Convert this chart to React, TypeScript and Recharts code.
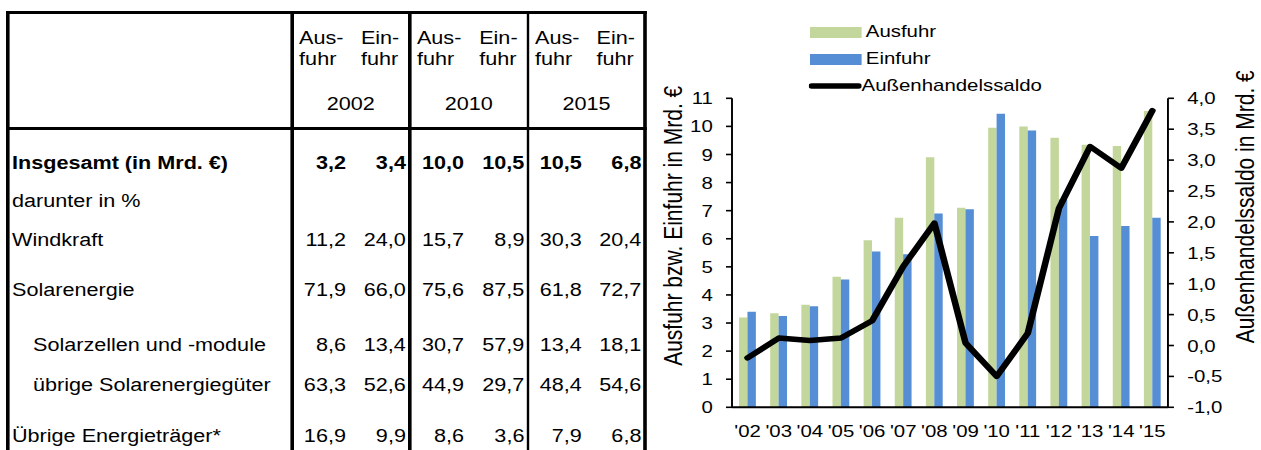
import React from "react";
import {
  Bar,
  ComposedChart,
  Legend,
  Line,
  XAxis,
  YAxis,
} from "recharts";

// chart data (Mrd. €)
const years = ["'02", "'03", "'04", "'05", "'06", "'07", "'08", "'09", "'10", "'11", "'12", "'13", "'14", "'15"];
const ausfuhr = [3.2, 3.35, 3.65, 4.65, 5.95, 6.75, 8.9, 7.1, 9.95, 10.0, 9.6, 9.35, 9.3, 10.55];
const einfuhr = [3.4, 3.25, 3.6, 4.55, 5.55, 5.45, 6.9, 7.05, 10.45, 9.85, 7.4, 6.1, 6.45, 6.75];
const saldo = [-0.2, 0.12, 0.08, 0.12, 0.4, 1.28, 1.98, 0.04, -0.5, 0.2, 2.22, 3.22, 2.87, 3.8];

const leftTicks = [0, 1, 2, 3, 4, 5, 6, 7, 8, 9, 10, 11];
const rightTicks = [-1, -0.5, 0, 0.5, 1, 1.5, 2, 2.5, 3, 3.5, 4];
const legendOrder = ["Ausfuhr", "Einfuhr", "Außenhandelssaldo"];

// table data
const tableYears = ["2002", "2010", "2015"];
const rowLabels = [
  "Insgesamt (in Mrd. €)",
  "darunter in %",
  "Windkraft",
  "Solarenergie",
  "Solarzellen und -module",
  "übrige Solarenergiegüter",
  "Übrige Energieträger*",
];
const rowValues = [
  ["3,2", "3,4", "10,0", "10,5", "10,5", "6,8"],
  [],
  ["11,2", "24,0", "15,7", "8,9", "30,3", "20,4"],
  ["71,9", "66,0", "75,6", "87,5", "61,8", "72,7"],
  ["8,6", "13,4", "30,7", "57,9", "13,4", "18,1"],
  ["63,3", "52,6", "44,9", "29,7", "48,4", "54,6"],
  ["16,9", "9,9", "8,6", "3,6", "7,9", "6,8"],
];
const indentedRows = [4, 5];
const boldRows = [0];

const GREEN = "#C3D69B";
const BLUE = "#558ED5";
const SX = 1.2;
const FONT = '"Liberation Sans", Arial, sans-serif';

// table geometry (unscaled x)
const colLines = [6.67, 243.3, 341.25, 440, 537.5];
const rowCenters = [163, 201, 240, 290, 345, 385, 436];
const LH = 22;

const chartData = years.map((year, i) => ({
  year,
  ausfuhr: ausfuhr[i],
  einfuhr: einfuhr[i],
  saldo: saldo[i],
}));

function Table() {
  const lineW = 2.5;
  const left = colLines[0] - lineW / 2;
  const width = colLines[4] + lineW / 2 - left;
  return (
    <div style={{ position: "absolute", left: 0, top: 0, width: 545, height: 450, fontSize: 18, color: "#000" }}>
      <div style={{ position: "absolute", left, top: 11, width, height: 3, background: "#000" }} />
      <div style={{ position: "absolute", left, top: 127, width, height: 3, background: "#000" }} />
      {colLines.map((x, i) => (
        <div key={i} style={{ position: "absolute", left: x - lineW / 2, top: 11, width: lineW, height: 439, background: "#000" }} />
      ))}
      {tableYears.map((y, g) => {
        const s = colLines[g + 1];
        const e = colLines[g + 2];
        const mid = (s + e) / 2;
        return (
          <React.Fragment key={y}>
            {[["Aus-", "fuhr"], ["Ein-", "fuhr"]].map((lines, k) => (
              <div
                key={k}
                style={{
                  position: "absolute",
                  left: k === 0 ? s : mid,
                  width: mid - s,
                  top: 28,
                  textAlign: "center",
                  lineHeight: "21px",
                }}
              >
                <div style={{ display: "inline-block", textAlign: "left" }}>
                  {lines[0]}
                  <br />
                  {lines[1]}
                </div>
              </div>
            ))}
            <div style={{ position: "absolute", left: s, width: e - s, top: 104 - LH / 2, lineHeight: `${LH}px`, textAlign: "center" }}>
              {y}
            </div>
          </React.Fragment>
        );
      })}
      {rowLabels.map((label, r) => {
        const top = rowCenters[r] - LH / 2;
        const weight = boldRows.includes(r) ? "bold" : "normal";
        return (
          <React.Fragment key={label}>
            <div
              style={{
                position: "absolute",
                left: indentedRows.includes(r) ? 27.5 : 10,
                top,
                lineHeight: `${LH}px`,
                fontWeight: weight,
                whiteSpace: "nowrap",
              }}
            >
              {label}
            </div>
            {rowValues[r].map((v, c) => {
              const g = Math.floor(c / 2);
              const s = colLines[g + 1];
              const e = colLines[g + 2];
              const right = c % 2 === 0 ? (s + e) / 2 - 4 : e - 3;
              return (
                <div
                  key={c}
                  style={{
                    position: "absolute",
                    left: right - 60,
                    width: 60,
                    top,
                    lineHeight: `${LH}px`,
                    textAlign: "right",
                    fontWeight: weight,
                  }}
                >
                  {v}
                </div>
              );
            })}
          </React.Fragment>
        );
      })}
    </div>
  );
}

function renderLegend(props: any) {
  const items = [...(props.payload || [])].sort(
    (a: any, b: any) => legendOrder.indexOf(a.value) - legendOrder.indexOf(b.value)
  );
  return (
    <div style={{ fontSize: 17, color: "#000" }}>
      {items.map((item: any) => (
        <div key={item.value} style={{ display: "flex", alignItems: "center", height: 27 }}>
          {item.type === "line" ? (
            <svg width={44} height={10} style={{ marginLeft: -1 }}>
              <line x1={2.5} y1={5} x2={41.5} y2={5} stroke={item.color} strokeWidth={5.5} strokeLinecap="round" />
            </svg>
          ) : (
            <div style={{ width: 42.5, height: 11, background: item.color }} />
          )}
          <span style={{ marginLeft: item.type === "line" ? 0 : 4, whiteSpace: "nowrap" }}>{item.value}</span>
        </div>
      ))}
    </div>
  );
}

function LeftTitle(props: any) {
  const vb = props.viewBox;
  const cx = vb.x + 21;
  const cy = vb.y + vb.height / 2 - 27;
  return (
    <text x={cx} y={cy} transform={`rotate(-90, ${cx}, ${cy})`} textAnchor="middle" dominantBaseline="central" fontSize={21} fill="#000">
      Ausfuhr bzw. Einfuhr in Mrd. €
    </text>
  );
}

function RightTitle(props: any) {
  const vb = props.viewBox;
  const cx = vb.x + 64.2;
  const cy = vb.y + vb.height / 2 - 46;
  return (
    <text x={cx} y={cy} transform={`rotate(-90, ${cx}, ${cy})`} textAnchor="middle" dominantBaseline="central" fontSize={21} fill="#000">
      Außenhandelssaldo in Mrd. €
    </text>
  );
}

const fmtComma = (v: number) => v.toFixed(1).replace(".", ",");

export default function App() {
  return (
    <div style={{ position: "absolute", left: 0, top: 0, width: 1261, height: 450, overflow: "hidden", background: "#fff", fontFamily: FONT }}>
      <div
        style={{
          position: "absolute",
          left: 0,
          top: 0,
          width: 1261 / SX,
          height: 450,
          transform: `scaleX(${SX})`,
          transformOrigin: "0 0",
        }}
      >
        <Table />
        <div style={{ position: "absolute", left: 540, top: 0 }}>
          <ComposedChart
            width={511}
            height={450}
            data={chartData}
            margin={{ top: 98.3, right: 0, bottom: 12.7, left: 0 }}
            barCategoryGap="22.7%"
            barGap={0}
          >
            <XAxis
              dataKey="year"
              interval={0}
              height={30}
              tickLine={false}
              tickSize={0}
              tickMargin={18}
              axisLine={{ stroke: "#000", strokeWidth: 2 }}
              tick={{ fill: "#000", fontSize: 17 }}
            />
            <YAxis
              yAxisId="left"
              orientation="left"
              width={70}
              domain={[0, 11]}
              ticks={leftTicks}
              interval={0}
              tickSize={5}
              tickMargin={11}
              axisLine={{ stroke: "#000", strokeWidth: 1.6 }}
              tickLine={{ stroke: "#000", strokeWidth: 1.6 }}
              tick={{ fill: "#000", fontSize: 17 }}
              label={{ content: LeftTitle }}
            />
            <YAxis
              yAxisId="right"
              orientation="right"
              width={77.7}
              domain={[-1, 4]}
              ticks={rightTicks}
              interval={0}
              tickSize={5}
              tickMargin={11}
              tickFormatter={fmtComma}
              axisLine={{ stroke: "#000", strokeWidth: 1.6 }}
              tickLine={{ stroke: "#000", strokeWidth: 1.6 }}
              tick={{ fill: "#000", fontSize: 17 }}
              label={{ content: RightTitle }}
            />
            <Legend
              layout="vertical"
              align="center"
              verticalAlign="middle"
              wrapperStyle={{ top: 18.5, left: 135, width: "auto", height: "auto" }}
              content={renderLegend}
            />
            <Bar yAxisId="left" dataKey="ausfuhr" name="Ausfuhr" fill={GREEN} isAnimationActive={false} />
            <Bar yAxisId="left" dataKey="einfuhr" name="Einfuhr" fill={BLUE} isAnimationActive={false} />
            <Line
              yAxisId="right"
              dataKey="saldo"
              name="Außenhandelssaldo"
              type="linear"
              stroke="#000"
              strokeWidth={5.5}
              strokeLinejoin="round"
              strokeLinecap="round"
              dot={false}
              activeDot={false}
              legendType="line"
              isAnimationActive={false}
            />
          </ComposedChart>
        </div>
      </div>
    </div>
  );
}
